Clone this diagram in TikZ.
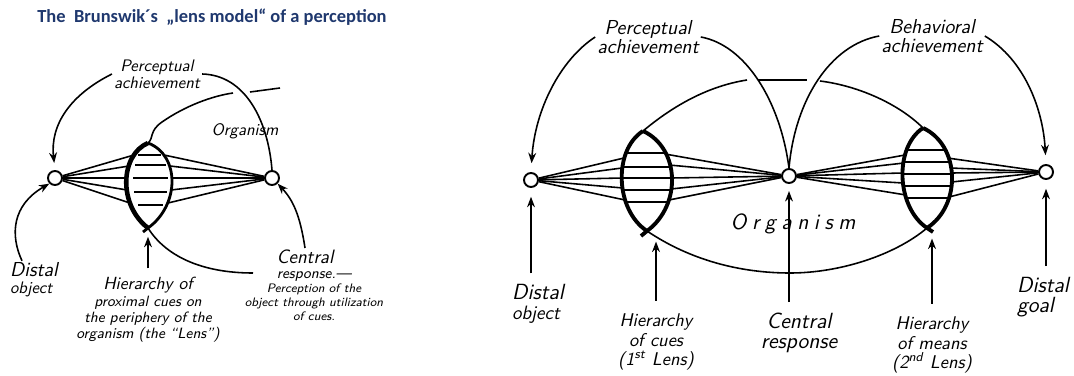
\documentclass[tikz,border=0pt]{standalone}
\usepackage{fontspec}
\newfontfamily\titlefont{Carlito}
\usetikzlibrary{arrows.meta}
\definecolor{titleblue}{RGB}{31,56,110}

\begin{document}
\begin{tikzpicture}[
  x=0.02cm, y=-0.02cm,
  hand/.style={font=\sffamily\itshape, align=center, inner sep=1pt},
  txtXS/.style={hand, font=\sffamily\itshape\fontsize{7}{8}\selectfont},
  txtS/.style={hand, font=\sffamily\itshape\fontsize{8.5}{9.3}\selectfont},
  txtM/.style={hand, font=\sffamily\itshape\fontsize{9.5}{9.5}\selectfont},
  txtN/.style={hand, font=\sffamily\itshape\fontsize{10.5}{11.3}\selectfont},
  txtL/.style={hand, font=\sffamily\itshape\fontsize{11.5}{10.5}\selectfont},
  txtXL/.style={hand, font=\sffamily\itshape\fontsize{12.5}{11.5}\selectfont},
  dot/.style={circle, draw, fill=white, line width=1.1pt, minimum size=0.28cm, inner sep=0pt},
  fan/.style={line width=0.9pt},
  rung/.style={line width=1pt},
  lensedge/.style={line width=2.2pt},
  bound/.style={line width=0.9pt},
  link/.style={line width=0.9pt},
  arr/.style={link, -{Stealth[length=6pt, width=4.5pt]}},
]
  \useasboundingbox (0,0) rectangle (1074,375);
  \def\lsp{\kern3.2pt}

  % --- Title ---
  \node[font=\titlefont\bfseries\fontsize{10.5}{12}\selectfont, text=titleblue,
        anchor=west, inner sep=0pt] (title) at (37,17)
    {The\ \ Brunswik´s\ \ „lens model“ of a perception};

  % --- Left sketch: end points ---
  \node[dot] (dobjA) at (55,178) {};
  \node[dot] (cresA) at (272,178) {};

  % --- Left sketch: cues through the lens ---
  \foreach \y/\xl/\xr in {155/134/164, 166/129/170, 178/127/172, 190/127/171, 203/130/168} {
    \coordinate (cueAl) at (\xl,\y);
    \coordinate (cueAr) at (\xr,\y);
    \draw[fan] (dobjA) -- (cueAl);
    \draw[fan] (cueAr) -- (cresA);
  }
  \foreach \y/\xa/\xb in {155/138/161, 165/135/166, 178/133/168, 192/134/167, 205/138/163}
    \draw[rung] (\xa,\y) -- (\xb,\y);

  % --- Left sketch: lens and organism outline ---
  \coordinate (lensAtop) at (148,143);
  \coordinate (lensAbot) at (148,228);
  \draw[lensedge, line width=2.6pt] (lensAtop) .. controls (120,155) and (118,205) .. (lensAbot);
  \draw[lensedge, line width=1.6pt] (lensAtop) .. controls (180,155) and (180,205) .. (lensAbot) -- (143,232);
  \draw[bound] (lensAbot) .. controls (165,255) and (200,273) .. (253,273);
  \draw[bound] (lensAtop) .. controls (154,138) and (149,131) .. (162,122)
    .. controls (185,106) and (212,96) .. (233,93);
  \draw[bound] (250,92) -- (280,88);

  % --- Left sketch: labels ---
  \node[txtM] (pachA) at (157,74) {Perceptual\\achievement};
  \draw[arr, shorten >=4pt] (pachA.west) .. controls (70,95) and (50,125) .. (dobjA.north);
  \draw[link] (pachA.east) .. controls (245,75) and (268,120) .. (cresA.north);
  \node[txtM] (orgA) at (245,131) {Organism};

  \node[txtM, align=left] (dlabA) at (34,280) {{\fontsize{11.5}{11}\selectfont Distal}\\object};
  \draw[arr] ([xshift=-0.24cm]dlabA.north) .. controls (10,235) and (12,205) .. (dobjA.south west);

  \node[txtS] (hierA) at (148,310)
    {{\fontsize{10}{10}\selectfont Hierarchy of}\\proximal cues on\\the periphery of the\\organism (the “Lens”)};
  \draw[arr, shorten <=4pt, shorten >=5pt] (hierA.north) -- (hierA.north |- lensAbot);

  \node[hand, font=\sffamily\itshape\fontsize{11}{11}\selectfont] (cenA) at (305,257) {Central};
  \node[txtXS] (respA) at (314,296)
    {{\fontsize{8.5}{8}\selectfont response.—}\\Perception of the\\object through utilization\\of cues.};
  \draw[arr] (cenA.north) .. controls (300,215) and (293,200) .. (cresA.south east);

  % --- Right sketch: end points ---
  \node[dot] (dobjB) at (531,180) {};
  \node[dot] (cresB) at (789,176) {};
  \node[dot] (dgoalB) at (1046,172) {};

  % --- Right sketch: cues and means ---
  \foreach \y/\x in {158/624, 168/622, 178/622, 188/623, 200/625} {
    \coordinate (cueBl) at (\x,\y);
    \draw[fan] (dobjB) -- (cueBl);
  }
  \foreach \y/\x in {154/665, 165/669, 178/672, 189/671, 200/669} {
    \coordinate (cueBr) at (\x,\y);
    \draw[fan] (cueBr) -- (cresB);
  }
  \foreach \y/\x in {155/905, 163/904, 173/902.5, 183/903, 195/906} {
    \coordinate (meanBl) at (\x,\y);
    \draw[fan] (cresB) -- (meanBl);
  }
  \foreach \y/\x in {158/947.5, 168/950.5, 173/951.5, 182/951.5, 197/949} {
    \coordinate (meanBr) at (\x,\y);
    \draw[fan] (meanBr) -- (dgoalB);
  }
  \foreach \y/\xa/\xb in {153/626/665, 167/622.5/670, 178/622/672, 190/623/671.5, 202/626/669,
                          150/907/944, 162/903.5/949.5, 174/902.5/951.5, 186/903.5/951.5, 198/906/949}
    \draw[rung] (\xa,\y) -- (\xb,\y);

  % --- Right sketch: the two lenses ---
  \coordinate (cuelensT) at (643,131);
  \coordinate (cuelensB) at (647,231);
  \coordinate (meanlensT) at (923,128);
  \coordinate (meanlensB) at (927,228);
  \draw[lensedge] (cuelensT) .. controls (613,150) and (615,210) .. (cuelensB);
  \draw[lensedge] (cuelensT) .. controls (680,148) and (682,205) .. (cuelensB) -- (641,236);
  \draw[lensedge] (meanlensT) .. controls (894,147) and (896,207) .. (meanlensB) -- (933,232);
  \draw[lensedge] (meanlensT) .. controls (960,145) and (962,205) .. (meanlensB);

  % --- Right sketch: organism outline ---
  \draw[bound] (cuelensT) .. controls (680,100) and (715,85) .. (747,80);
  \draw[bound] (758,80) -- (807,80);
  \draw[bound] (820,81) .. controls (860,86) and (900,105) .. (meanlensT);
  \draw[bound] (cuelensB) .. controls (690,260) and (740,273) .. (790,273)
    .. controls (840,273) and (895,255) .. (meanlensB);

  % --- Right sketch: achievements ---
  \node[txtL] (pachB) at (648,37) {Perceptual\\achievement};
  \draw[arr, shorten >=5pt] (pachB.west) .. controls (560,60) and (535,110) .. (dobjB.north);
  \draw[link] (pachB.east) .. controls (745,45) and (780,100) .. (cresB.north);
  \node[txtL] (bachB) at (932,36) {Behavioral\\achievement};
  \draw[link] (bachB.west) .. controls (830,45) and (795,100) .. (cresB.north);
  \draw[arr, shorten >=5pt] (bachB.east) .. controls (1025,60) and (1043,110) .. (dgoalB.north);
  \node[txtXL] (orgB) at (793,224) {O\lsp r\lsp g\lsp a\lsp n\lsp i\lsp s\lsp m};

  % --- Right sketch: labels below ---
  \node[txtXL, align=left] (dlabB) at (538,304) {Distal\\{\fontsize{11}{11}\selectfont object}};
  \draw[arr, shorten <=5pt, shorten >=5pt] (dlabB.north -| dobjB) -- (dobjB.south);
  \node[txtN] (hierB1) at (656,342) {Hierarchy\\of cues\\(1\textsuperscript{st} Lens)};
  \draw[arr, shorten <=6pt, shorten >=6pt] (hierB1.north) -- (hierB1.north |- cuelensB);
  \node[txtXL] (cresBlab) at (799,333) {Central\\response};
  \draw[arr, shorten <=5pt, shorten >=4pt] (cresBlab.north -| cresB) -- (cresB.south);
  \node[txtN] (hierB2) at (932,345) {Hierarchy\\of means\\(2\textsuperscript{nd} Lens)};
  \draw[arr, shorten <=6pt, shorten >=6pt] (hierB2.north) -- (hierB2.north |- meanlensB);
  \node[txtXL, align=left] (dgoalBlab) at (1043,297) {Distal\\goal};
  \draw[arr, shorten <=5pt, shorten >=5pt] (dgoalBlab.north -| dgoalB) -- (dgoalB.south);
\end{tikzpicture}
\end{document}
